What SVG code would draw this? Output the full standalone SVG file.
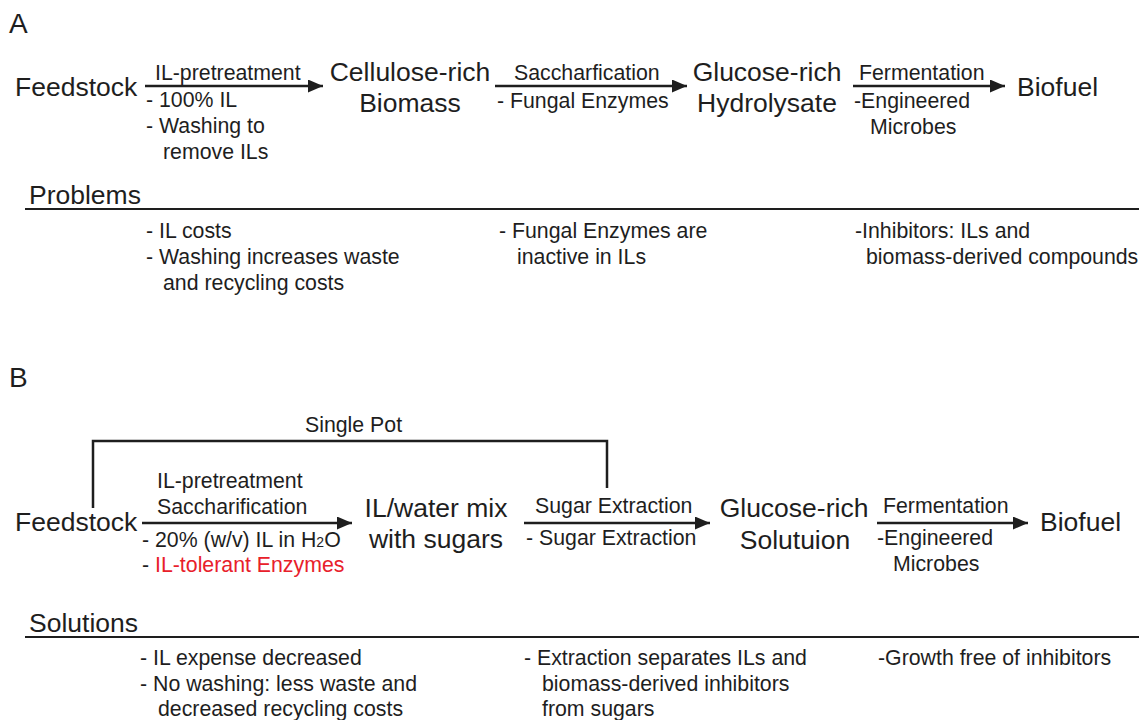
<svg xmlns="http://www.w3.org/2000/svg" width="1139" height="720" viewBox="0 0 1139 720">
<style>
text{font-family:"Liberation Sans",Arial,sans-serif;fill:#1e1e1e}
.node{font-size:26.5px}
.lbl{font-size:21.3px}
.head{font-size:26.5px}
.panel{font-size:28px}
.red{fill:#e8202a}
.ln{stroke:#1e1e1e;stroke-width:2.5;fill:none}
.rule{stroke:#1e1e1e;stroke-width:2;fill:none}
</style>
<defs>
<marker id="ah" markerUnits="userSpaceOnUse" markerWidth="16" markerHeight="13" refX="15" refY="6.5" orient="auto">
<path d="M0,0 L15,6.5 L0,13 z" fill="#1e1e1e"/>
</marker>
</defs>
<rect width="1139" height="720" fill="#fff"/>

<text class="panel" x="9" y="33">A</text>
<text class="panel" x="9" y="387">B</text>

<g id="a-feedstock"><text class="node" x="15" y="96">Feedstock</text></g>
<g id="a-cellulose"><text class="node" text-anchor="middle" x="410" y="81">Cellulose-rich</text><text class="node" text-anchor="middle" x="410" y="112">Biomass</text></g>
<g id="a-glucose"><text class="node" text-anchor="middle" x="767" y="81">Glucose-rich</text><text class="node" text-anchor="middle" x="767" y="112">Hydrolysate</text></g>
<g id="a-biofuel"><text class="node" x="1017" y="96">Biofuel</text></g>

<g id="b-feedstock"><text class="node" x="15" y="531">Feedstock</text></g>
<g id="b-mix"><text class="node" text-anchor="middle" x="436" y="517">IL/water mix</text><text class="node" text-anchor="middle" x="436" y="548">with sugars</text></g>
<g id="b-glucose"><text class="node" text-anchor="middle" x="794" y="517">Glucose-rich</text><text class="node" text-anchor="middle" x="795" y="549">Solutuion</text></g>
<g id="b-biofuel"><text class="node" x="1040" y="531">Biofuel</text></g>

<g id="connectors">
<line class="ln" x1="145" y1="86" x2="323" y2="86" marker-end="url(#ah)"/>
<line class="ln" x1="495" y1="86" x2="687" y2="86" marker-end="url(#ah)"/>
<line class="ln" x1="853" y1="86" x2="1005" y2="86" marker-end="url(#ah)"/>
<line class="ln" x1="142" y1="523" x2="352" y2="523" marker-end="url(#ah)"/>
<line class="ln" x1="524" y1="523" x2="710" y2="523" marker-end="url(#ah)"/>
<line class="ln" x1="877" y1="523" x2="1028" y2="523" marker-end="url(#ah)"/>
<path class="ln" d="M93,508 V441 H607 V488"/>
</g>

<g id="a-labels">
<text class="lbl" x="155" y="80">IL-pretreatment</text>
<text class="lbl" x="146" y="107">- 100% IL</text>
<text class="lbl" x="146" y="133">- Washing to</text>
<text class="lbl" x="163" y="159">remove ILs</text>
<text class="lbl" x="514" y="80">Saccharfication</text>
<text class="lbl" x="497" y="108">- Fungal Enzymes</text>
<text class="lbl" x="859" y="80">Fermentation</text>
<text class="lbl" x="854" y="108">-Engineered</text>
<text class="lbl" x="870" y="134">Microbes</text>
</g>

<g id="problems">
<text class="head" x="29" y="204">Problems</text>
<line class="rule" x1="25" y1="209" x2="1139" y2="209"/>
<text class="lbl" x="146" y="238">- IL costs</text>
<text class="lbl" x="146" y="264">- Washing increases waste</text>
<text class="lbl" x="163" y="290">and recycling costs</text>
<text class="lbl" x="499" y="238">- Fungal Enzymes are</text>
<text class="lbl" x="517" y="264">inactive in ILs</text>
<text class="lbl" x="855" y="238">-Inhibitors: ILs and</text>
<text class="lbl" x="866" y="264">biomass-derived compounds</text>
</g>

<g id="b-labels">
<text class="lbl" x="305" y="432">Single Pot</text>
<text class="lbl" x="157" y="488">IL-pretreatment</text>
<text class="lbl" x="157" y="514">Saccharification</text>
<text class="lbl" x="142" y="547">- 20% (w/v) IL in H<tspan font-size="14">2</tspan>O</text>
<text class="lbl" x="142" y="572">- <tspan class="red">IL-tolerant Enzymes</tspan></text>
<text class="lbl" x="535" y="513">Sugar Extraction</text>
<text class="lbl" x="526" y="545">- Sugar Extraction</text>
<text class="lbl" x="883" y="513">Fermentation</text>
<text class="lbl" x="877" y="545">-Engineered</text>
<text class="lbl" x="893" y="571">Microbes</text>
</g>

<g id="solutions">
<text class="head" x="29" y="632">Solutions</text>
<line class="rule" x1="25" y1="637" x2="1139" y2="637"/>
<text class="lbl" x="140" y="665">- IL expense decreased</text>
<text class="lbl" x="140" y="691">- No washing: less waste and</text>
<text class="lbl" x="158" y="716">decreased recycling costs</text>
<text class="lbl" x="524" y="665">- Extraction separates ILs and</text>
<text class="lbl" x="542" y="691">biomass-derived inhibitors</text>
<text class="lbl" x="542" y="716">from sugars</text>
<text class="lbl" x="878" y="665">-Growth free of inhibitors</text>
</g>
</svg>
